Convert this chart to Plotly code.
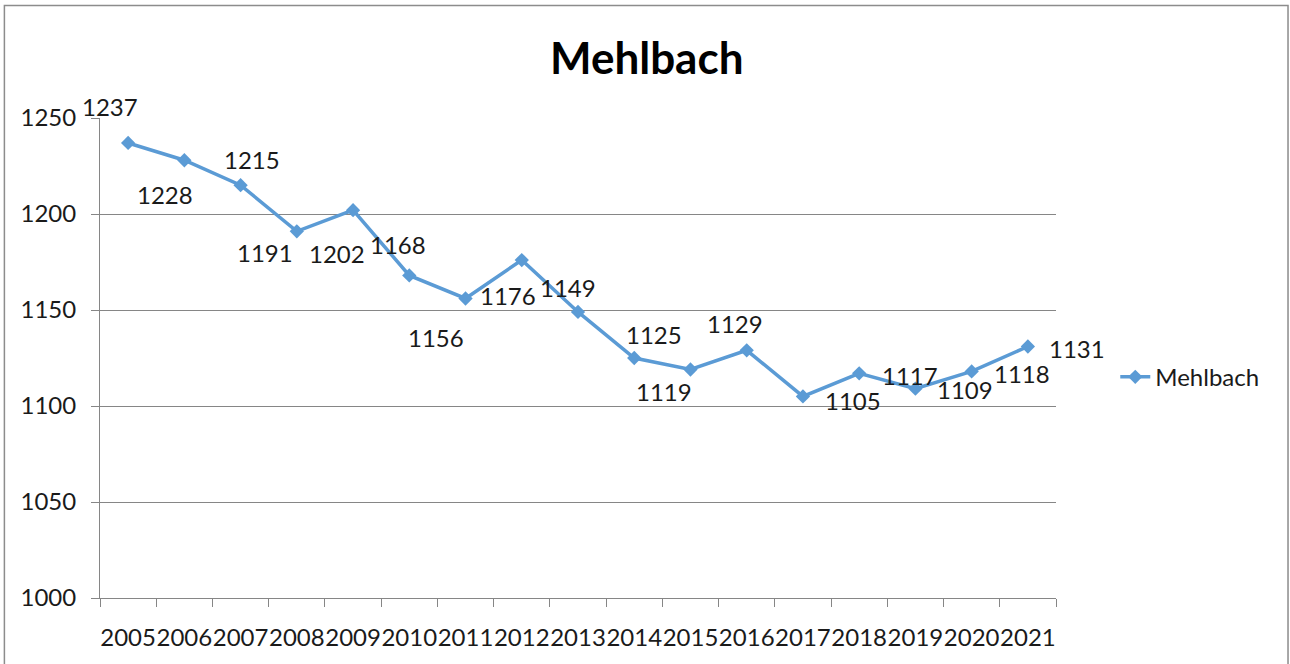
import plotly.graph_objects as go

years = [2005, 2006, 2007, 2008, 2009, 2010, 2011, 2012, 2013, 2014, 2015, 2016, 2017, 2018, 2019, 2020, 2021]
values = [1237, 1228, 1215, 1191, 1202, 1168, 1156, 1176, 1149, 1125, 1119, 1129, 1105, 1117, 1109, 1118, 1131]
series_name = "Mehlbach"
title_text = "Mehlbach"

# label offsets in pixels (style only)
label_dx = [-18, -19, 11, -32, -16, -11, -30, -14, -10, 20, -26, -12, 50, 51, 50, 50, 49]
label_dy = [-36, 34, -26, 21, 43, -31, 39, 35, -24, -24, 22, -27, 4, 2, 1, 2, 2]

LINE = "#5B9BD5"
GRID = "#868686"
TXT = "#1a1a1a"
FONT = "Lato"

fig = go.Figure()
fig.add_trace(go.Scatter(
    x=years, y=values, name=series_name, mode="lines+markers",
    line=dict(color=LINE, width=3.5),
    marker=dict(symbol="diamond", size=11, color=LINE),
))

for x, v, dx, dy in zip(years, values, label_dx, label_dy):
    fig.add_annotation(x=x, y=v, xref="x", yref="y", text=str(v), showarrow=False,
                       xshift=dx, yshift=-dy, font=dict(family=FONT, size=24, color=TXT))

fig.add_annotation(x=0.572, y=1.127, xref="paper", yref="paper", text="<b>" + title_text + "</b>",
                   xanchor="center", yanchor="middle",
                   showarrow=False, font=dict(family=FONT, size=44, color="#000000"))

fig.add_shape(type="rect", xref="paper", yref="paper", x0=-0.1, x1=1.2427, y0=-0.2, y1=1.2345,
              line=dict(color="#8c8c8c", width=1.5), fillcolor="rgba(0,0,0,0)")

fig.update_layout(
    width=1290, height=664,
    margin=dict(l=100, r=234, t=118, b=66),
    paper_bgcolor="white", plot_bgcolor="white",
    font=dict(family=FONT, size=24, color=TXT),
    showlegend=True,
    legend=dict(x=1.062, y=0.46, xanchor="left", yanchor="middle", font=dict(size=24, color=TXT),
                bgcolor="rgba(0,0,0,0)"),
    xaxis=dict(range=[2004.5, 2021.5], tickvals=years, ticktext=[str(y) for y in years],
               ticks="", showgrid=False, zeroline=False, showline=True, linecolor=GRID, linewidth=1,
               ticklabelstandoff=18, tickangle=0, automargin=False, tickfont=dict(size=24, color=TXT),
               minor=dict(ticks="outside", tick0=2004.5, dtick=1, ticklen=8, tickcolor=GRID, showgrid=False)),
    yaxis=dict(range=[1000, 1250], dtick=50, ticks="outside", ticklen=8, tickcolor=GRID,
               showgrid=True, gridcolor=GRID, gridwidth=1, zeroline=False, automargin=False,
               showline=True, linecolor=GRID, linewidth=1, ticklabelstandoff=10,
               tickfont=dict(size=24, color=TXT)),
)

fig.write_html("out.html", config={"displayModeBar": False},
               post_script="document.body.style.margin='0';")
